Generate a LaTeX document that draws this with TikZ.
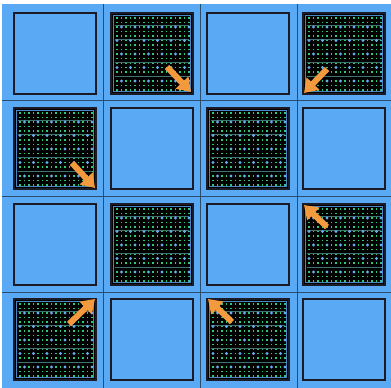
\documentclass[tikz,border=0pt]{standalone}
\usetikzlibrary{arrows.meta}
\definecolor{cellblue}{HTML}{5AA9F5}
\definecolor{gridline}{HTML}{2A4E6E}
\definecolor{sqborder}{HTML}{1B1B28}
\definecolor{dotgreen}{HTML}{2FC878}
\definecolor{dotblue}{HTML}{6AAAF2}
\definecolor{stripe}{HTML}{3F7272}
\definecolor{arroworange}{HTML}{F39A3E}
\tikzset{
  gridrule/.style={draw=gridline, line width=1pt},
  square/.style={draw=sqborder, line width=2pt},
  fatarrow/.style={draw=arroworange, line width=6pt, -{Triangle[width=17pt,length=13pt]}},
}
\begin{document}
\begin{tikzpicture}[x=1pt,y=-1pt]
\useasboundingbox (0,0) rectangle (391,388);
\fill[white] (0,0) rectangle (391,388);
\fill[cellblue] (2,4) rectangle (391,388);
% grid lines
\foreach \gx in {103,200,297} \draw[gridrule] (\gx,4) -- (\gx,388);
\foreach \gy in {100,196,292} \draw[gridrule] (2,\gy) -- (391,\gy);
% squares
\foreach \c/\sx in {0/14,1/111,2/207,3/303}{
  \foreach \r/\sy in {0/13,1/108,2/204,3/299}{
    \pgfmathtruncatemacro{\dark}{mod(\r+\c,2)}
    \begin{scope}[shift={(\sx,\sy)}]
    \ifnum\dark=1
      \fill[black] (0,0) rectangle (82,81);
      \draw[cellblue!80!black, line width=0.6pt] (2.5,2.5) rectangle (79.5,78.5);
      \foreach \j in {0,...,16}{
        \foreach \i in {0,...,16}{
          \fill[dotgreen] ({6+4.5*\i-0.95},{5+4.5*\j-0.95}) rectangle ++(1.9,1.9);
        }
      }
      \foreach \ly in {12,26,49,63} \draw[stripe, line width=0.6pt] (4,\ly) -- (78,\ly);
      \foreach \j in {2,5,8,11,14}{
        \pgfmathtruncatemacro{\off}{mod(\j,2)}
        \foreach \i in {1,4,7,10,13,16}{
          \pgfmathsetmacro{\ii}{\i-\off}
          \fill[dotblue] ({6+4.5*\ii},{5+4.5*\j}) circle (1.6);
        }
      }
    \fi
    \draw[square] (0,0) rectangle (82,81);
    \end{scope}
  }
}
% arrows
\coordinate (a1s) at (167,67);  \coordinate (a1e) at (191,92);
\coordinate (a2s) at (327,69);  \coordinate (a2e) at (304,93);
\coordinate (a3s) at (72,163);  \coordinate (a3e) at (95,188);
\coordinate (a4s) at (327,227); \coordinate (a4e) at (304,205);
\coordinate (a5s) at (69,324);  \coordinate (a5e) at (95,299);
\coordinate (a6s) at (232,322); \coordinate (a6e) at (208,299);
\foreach \k in {1,...,6} \draw[fatarrow] (a\k s) -- (a\k e);
\end{tikzpicture}
\end{document}
